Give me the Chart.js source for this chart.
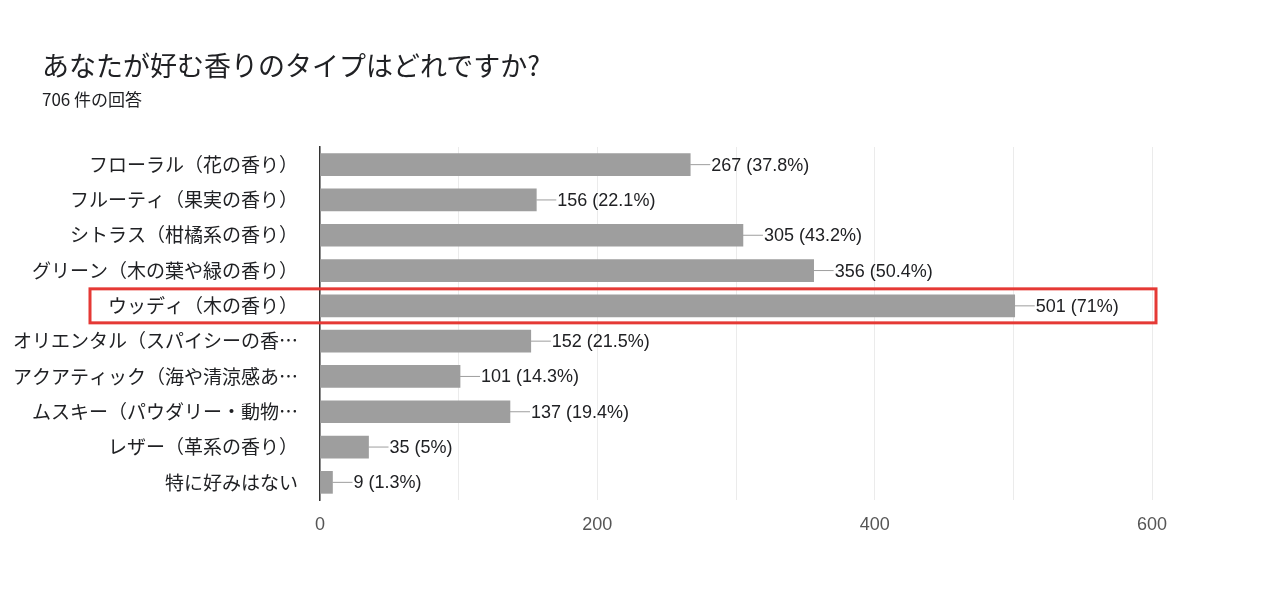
<!DOCTYPE html>
<html><head><meta charset="utf-8">
<script src="https://cdn.jsdelivr.net/npm/chart.js@4"></script>
<style>
body{margin:0;background:#fff;font-family:"Noto Sans CJK JP",sans-serif;}
#wrap{position:relative;width:1280px;height:608px;}
#t{position:absolute;left:42px;top:45px;font-size:27px;color:#202124;}
#s{position:absolute;left:42px;top:86px;font-size:17px;color:#202124;}
canvas{position:absolute;left:0;top:0;}
</style></head><body>
<div id="wrap">
<canvas id="c" width="1280" height="608"></canvas>
<div id="t">あなたが好む香りのタイプはどれですか?</div>
<div id="s">706 件の回答</div>
</div>
<script>
const categories = ['フローラル（花の香り）','フルーティ（果実の香り）','シトラス（柑橘系の香り）','グリーン（木の葉や緑の香り）','ウッディ（木の香り）','オリエンタル（スパイシーの香…','アクアティック（海や清涼感あ…','ムスキー（パウダリー・動物…','レザー（革系の香り）','特に好みはない'];
const counts = [267,156,305,356,501,152,101,137,35,9];
const percents = ['37.8%','22.1%','43.2%','50.4%','71%','21.5%','14.3%','19.4%','5%','1.3%'];
const highlightIndex = 4;

const valueLabels = {
  id:'valueLabels',
  afterDatasetsDraw(chart){
    const ctx = chart.ctx;
    const meta = chart.getDatasetMeta(0);
    ctx.save();
    ctx.font = '18px "Liberation Sans", Arial, sans-serif';
    ctx.textBaseline = 'middle';
    meta.data.forEach((bar,i)=>{
      ctx.strokeStyle = '#9e9e9e'; ctx.lineWidth = 1;
      ctx.beginPath(); ctx.moveTo(bar.x, bar.y); ctx.lineTo(bar.x+20, bar.y); ctx.stroke();
      ctx.fillStyle = '#202124';
      ctx.fillText(counts[i]+' ('+percents[i]+')', bar.x+21, bar.y+1);
    });
    const b = meta.data[highlightIndex];
    ctx.strokeStyle = '#e53935'; ctx.lineWidth = 3;
    ctx.strokeRect(90, b.y-17, 1066, 34);
    ctx.restore();
  }
};

new Chart(document.getElementById('c'), {
  type:'bar',
  data:{labels:categories, datasets:[{data:counts, backgroundColor:'#9e9e9e', barThickness:22}]},
  options:{
    indexAxis:'y', responsive:false, animation:false,
    layout:{padding:{top:147,right:128,bottom:66,left:0}},
    plugins:{legend:{display:false}, tooltip:{enabled:false}},
    scales:{
      x:{min:0,max:600,
        ticks:{stepSize:100,color:'#555',padding:14,font:{size:18,family:'"Liberation Sans", Arial, sans-serif'},
          callback:v=> v%200===0 ? v : ''},
        grid:{color:'#ebebeb',drawTicks:false}, border:{display:false},
        afterFit:s=>{s.height=42;}},
      y:{ticks:{color:'#202124',font:{size:19,family:'"Noto Sans CJK JP", sans-serif'},padding:14},
        grid:{display:false}, border:{color:'#333',width:1.5},
        afterFit:s=>{s.width=320;}}
    }
  },
  plugins:[valueLabels]
});
</script>
</body></html>
